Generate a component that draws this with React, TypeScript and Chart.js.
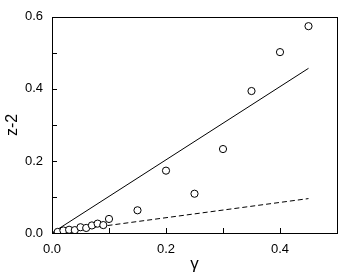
import React, { useEffect, useRef } from "react";
import { Chart, registerables } from "chart.js";

Chart.register(...registerables);

// Data
const gammaValues = [0.01, 0.02, 0.03, 0.04, 0.05, 0.06, 0.07, 0.08, 0.09, 0.1, 0.15, 0.2, 0.25, 0.3, 0.35, 0.4, 0.45];
const z2Values = [0.003, 0.007, 0.009, 0.008, 0.016, 0.014, 0.021, 0.026, 0.022, 0.039, 0.063, 0.173, 0.109, 0.233, 0.394, 0.502, 0.574];
const solidLineX = [0, 0.45];
const solidLineY = [0, 0.457];
const dashedLineX = [0, 0.45];
const dashedLineY = [0, 0.0955];
const xTickLabels = ["0.0", "0.2", "0.4"];
const yTickLabels = ["0.0", "0.2", "0.4", "0.6"];

const FONT = "'Liberation Sans', Arial, Helvetica, sans-serif";

const framePlugin = {
  id: "frameTicks",
  afterDraw(chart: any) {
    const { ctx, chartArea } = chart;
    const { left, right, top, bottom } = chartArea;
    ctx.save();
    ctx.strokeStyle = "#000";
    ctx.lineWidth = 1;
    ctx.strokeRect(Math.round(left) + 0.5, Math.round(top) + 0.5, Math.round(right - left), Math.round(bottom - top));
    const xs = chart.scales.x;
    const ys = chart.scales.y;
    ctx.beginPath();
    xs.ticks.forEach((t: any) => {
      if (t.value <= xs.min + 1e-9 || t.value >= xs.max - 1e-9) return;
      const px = Math.round(xs.getPixelForValue(t.value)) + 0.5;
      ctx.moveTo(px, Math.round(bottom));
      ctx.lineTo(px, Math.round(bottom) - 5);
    });
    ys.ticks.forEach((t: any) => {
      if (t.value <= ys.min + 1e-9 || t.value >= ys.max - 1e-9) return;
      const py = Math.round(ys.getPixelForValue(t.value)) + 0.5;
      ctx.moveTo(Math.round(left), py);
      ctx.lineTo(Math.round(left) + 5, py);
    });
    ctx.stroke();
    ctx.restore();
  },
};

export default function App() {
  const canvasRef = useRef<HTMLCanvasElement | null>(null);

  useEffect(() => {
    document.body.style.margin = "0";
    const canvas = canvasRef.current;
    if (!canvas) return;
    const chart = new Chart(canvas, {
      type: "scatter",
      data: {
        datasets: [
          {
            type: "scatter",
            data: gammaValues.map((g, i) => ({ x: g, y: z2Values[i] })),
            pointStyle: "circle",
            pointRadius: 3.6,
            pointBorderWidth: 1,
            pointBackgroundColor: "#fff",
            pointBorderColor: "#000",
            order: 0,
          },
          {
            type: "line",
            data: solidLineX.map((x, i) => ({ x, y: solidLineY[i] })),
            borderColor: "#000",
            borderWidth: 1,
            pointRadius: 0,
            fill: false,
            order: 1,
          } as any,
          {
            type: "line",
            data: dashedLineX.map((x, i) => ({ x, y: dashedLineY[i] })),
            borderColor: "#000",
            borderWidth: 1,
            borderDash: [5, 3],
            pointRadius: 0,
            fill: false,
            order: 2,
          } as any,
        ],
      },
      options: {
        animation: false,
        responsive: true,
        maintainAspectRatio: false,
        layout: { padding: { top: 5, right: 2, left: 0, bottom: 0 } },
        plugins: { legend: { display: false }, tooltip: { enabled: false } },
        scales: {
          x: {
            type: "linear",
            min: 0,
            max: 0.5,
            grid: { display: false, drawTicks: false },
            border: { display: false },
            ticks: {
              stepSize: 0.1,
              padding: 9,
              color: "#000",
              font: { family: FONT, size: 13 },
              maxRotation: 0,
              autoSkip: false,
              callback: (v: any) => {
                const s = Number(v).toFixed(1);
                return xTickLabels.includes(s) ? s : "";
              },
            },
            title: {
              display: true,
              text: "γ",
              color: "#000",
              font: { family: FONT, size: 17 },
              padding: { top: 0, bottom: 2 },
            },
            afterFit: (s: any) => {
              s.height = 44;
            },
          },
          y: {
            type: "linear",
            min: 0,
            max: 0.6,
            grid: { display: false, drawTicks: false },
            border: { display: false },
            ticks: {
              stepSize: 0.1,
              padding: 9,
              color: "#000",
              font: { family: FONT, size: 13 },
              autoSkip: false,
              callback: (v: any) => {
                const s = Number(v).toFixed(1);
                return yTickLabels.includes(s) ? s : "";
              },
            },
            title: {
              display: true,
              text: "z-2",
              color: "#000",
              font: { family: FONT, size: 16 },
              padding: { top: 3, bottom: 0 },
            },
            afterFit: (s: any) => {
              s.width = 52;
            },
          },
        },
      },
      plugins: [framePlugin],
    });
    return () => chart.destroy();
  }, []);

  return (
    <div style={{ width: 346, height: 277, position: "relative" }}>
      <canvas ref={canvasRef} />
    </div>
  );
}
